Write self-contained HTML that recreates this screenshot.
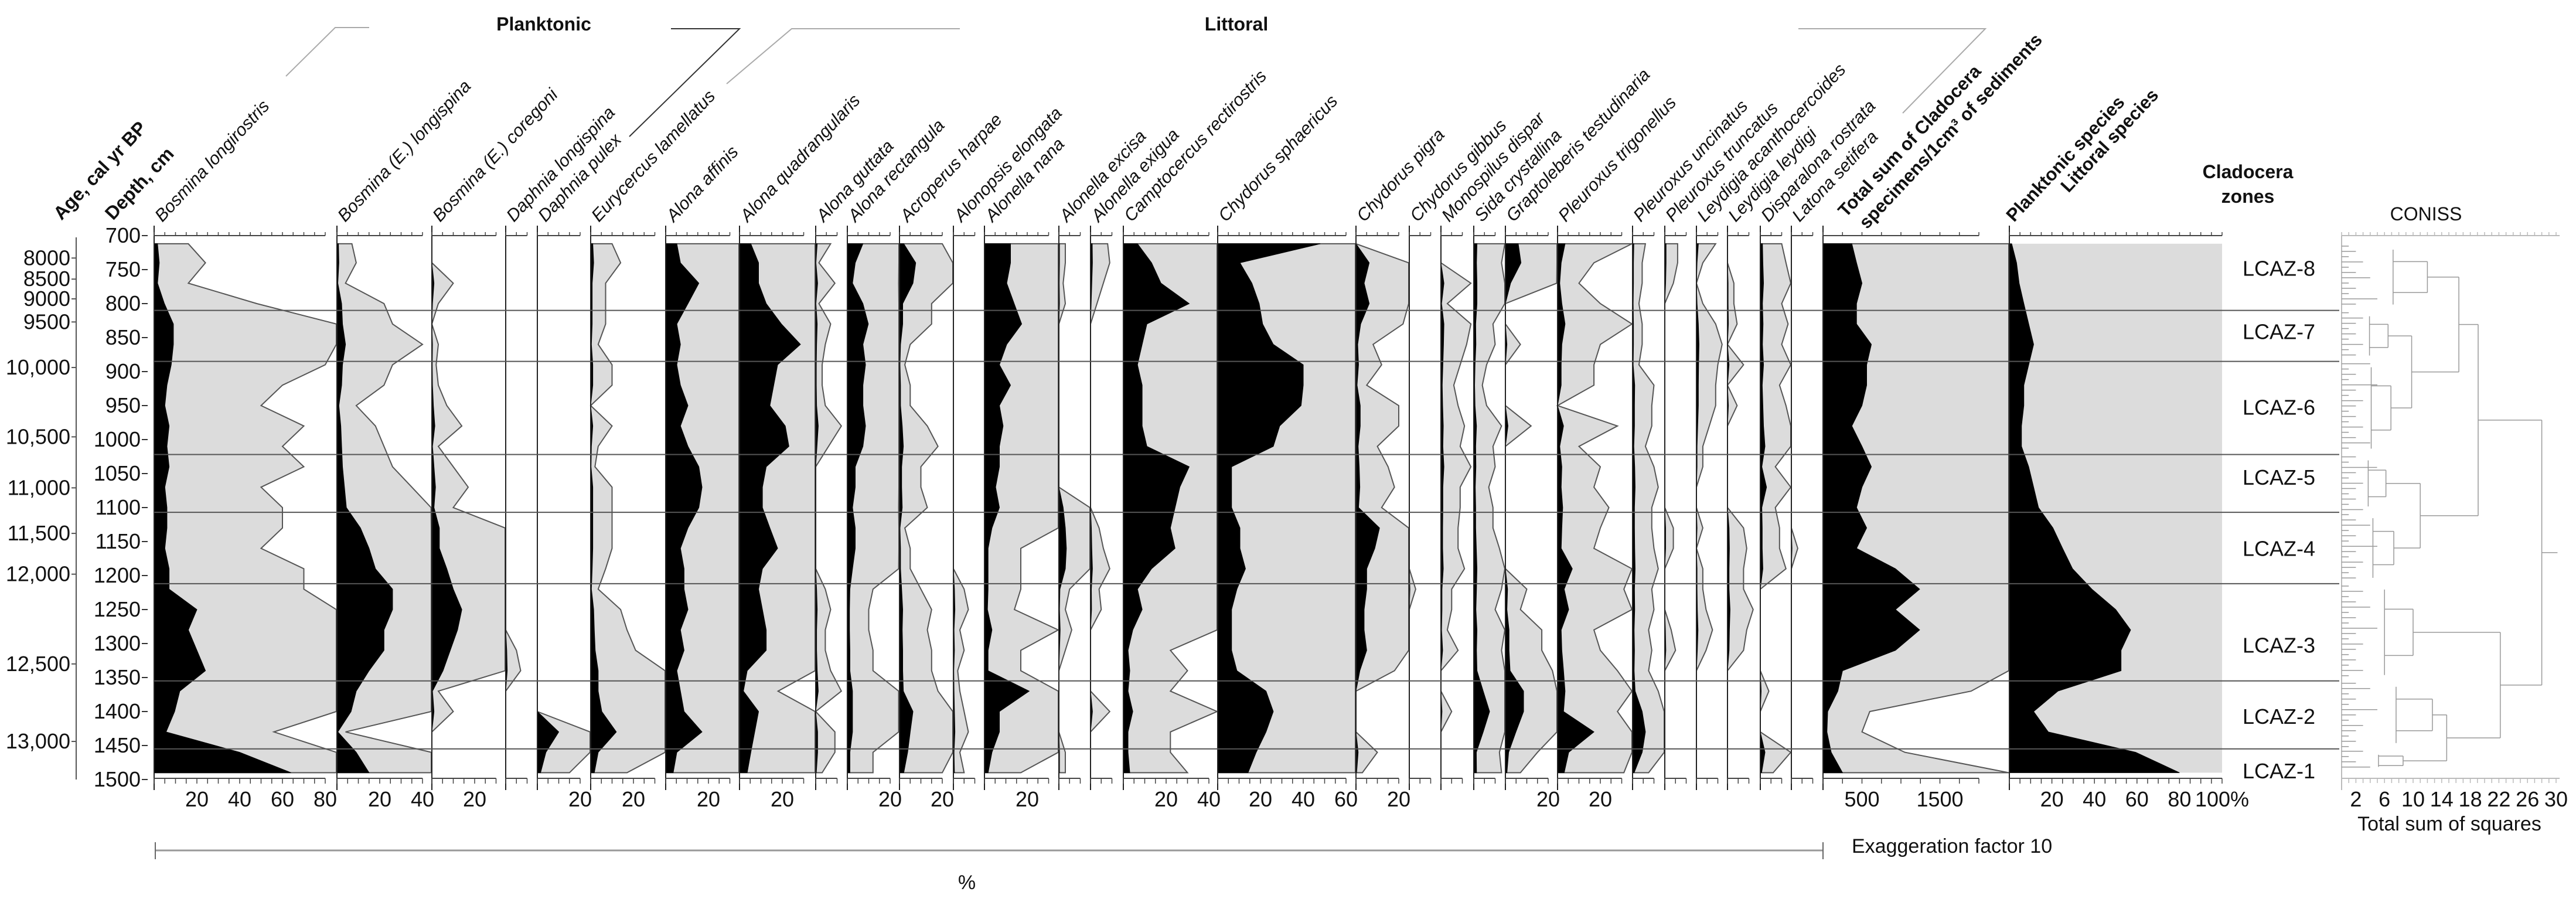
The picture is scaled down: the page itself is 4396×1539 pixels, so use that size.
<!DOCTYPE html>
<html>
<head>
<meta charset="utf-8">
<style>
  html,body{margin:0;padding:0;background:#fff;}
  svg{display:block;}
  .num{font-family:"Liberation Sans Narrow","Liberation Sans",sans-serif;font-size:36px;fill:#111;}
  .sp{font-family:"Liberation Sans",sans-serif;font-style:italic;font-size:30px;fill:#111;}
  .bold{font-family:"Liberation Sans",sans-serif;font-weight:bold;font-size:32px;fill:#111;}
  .lab{font-family:"Liberation Sans Narrow","Liberation Sans",sans-serif;font-size:36px;fill:#111;}
</style>
</head>
<body>
<svg id="chart" xmlns="http://www.w3.org/2000/svg" width="4396" height="1539" viewBox="0 0 4396 1539">
  <rect x="0" y="0" width="4396" height="1539" fill="#fff"/>
  <text class="bold" x="928" y="52" text-anchor="middle">Planktonic</text>
  <text class="bold" x="2110" y="52" text-anchor="middle">Littoral</text>
  <polyline points="488,130 572,47 630,47" fill="none" stroke="#aaa" stroke-width="2"/>
  <polyline points="1145,49 1262,49 1074,233" fill="none" stroke="#333" stroke-width="2"/>
  <polyline points="1638,49 1351,49 1240,143" fill="none" stroke="#aaa" stroke-width="2"/>
  <polyline points="3069,49 3388,49 3247,193" fill="none" stroke="#aaa" stroke-width="2"/>
  <text class="bold" x="3836" y="304" text-anchor="middle">Cladocera</text>
  <text class="bold" x="3836" y="346" text-anchor="middle">zones</text>
  <text class="lab" x="4140" y="376" text-anchor="middle" style="font-size:32px">CONISS</text>
  <text class="lab" x="4180" y="1417" text-anchor="middle" style="font-size:34px">Total sum of squares</text>
  <line x1="265" y1="1451" x2="3111" y2="1451" stroke="#999" stroke-width="3"/>
  <line x1="265" y1="1437" x2="265" y2="1466" stroke="#666" stroke-width="2"/>
  <line x1="3111" y1="1437" x2="3111" y2="1466" stroke="#666" stroke-width="2"/>
  <text class="lab" x="1650" y="1517" text-anchor="middle" style="font-size:34px">%</text>
  <text class="lab" x="3160" y="1455" style="font-size:34px">Exaggeration factor 10</text>
  <g id="layer"></g>
</svg>
<script>
const depths = [712,740,770,800,830,860,890,920,950,980,1010,1040,1070,1100,1130,1160,1190,1220,1250,1280,1310,1340,1370,1400,1430,1460,1490];
const zoneBounds = [712,810,885,1022,1107,1212,1355,1455,1490];
const zoneNames = ["LCAZ-8","LCAZ-7","LCAZ-6","LCAZ-5","LCAZ-4","LCAZ-3","LCAZ-2","LCAZ-1"];
const zoneLabelDepths = [748,841,952,1055,1160,1302,1407,1487];
const ageTicks = ["8000","8500","9000","9500","10,000","10,500","11,000","11,500","12,000","12,500","13,000"];
const ageTickDepths = [733,764,793,827,894,996,1071,1138,1198,1330,1444];
const depthTicks = [700,750,800,850,900,950,1000,1050,1100,1150,1200,1250,1300,1350,1400,1450,1500];

const bosLongirostris = [1.6,2.4,1.6,4.8,9,9,8,6,5,7,6,7,5,6,6,5,7,7,20,16,20,24,12,9.6,5.6,40,64];
const bosLongispina = [0.7,0.9,0.4,2.2,2.6,4,2.6,2.2,0.9,1.8,2.2,2.6,3.5,4.4,11,15,18,26,26,22,22,15,9,6.6,0.4,9,15];
const bosCoregoni = [0,0,1,0.3,0,0.3,0.2,0.3,0.7,1.4,0.3,1,1.7,1,3.5,3.5,7,10,14,12,8.6,5.2,0.3,1,0,0,0];
const daphLongispina = [0,0,0,0,0,0,0,0,0,0,0,0,0,0,0,0,0,0,0,0,0.5,0.7,0,0,0,0,0];
const daphPulex = [0,0,0,0,0,0,0,0,0,0,0,0,0,0,0,0,0,0,0,0,0,0,0,0,10,4,1.5];
const eurycercus = [1,1.4,0.7,0.7,0.7,0.35,1,1,0,1,0.35,0.2,1,1,1,1,0.7,0.35,1.4,1.7,2.1,3.5,3.5,5.2,12,3.5,1.7];
const alonaAffinis = [5.2,6.9,15.5,10.4,5.2,6.9,5.2,6.9,10.4,6.9,10.4,15.5,17,15.5,10.4,6.9,8.6,8.6,10.4,6.9,8.6,5.2,6.9,8.6,17,5.2,3.5];
const alonaQuad = [5.3,8.9,8.9,12.5,19.6,28.5,17.8,16,14.2,21.4,23.1,12.5,10.7,10.7,14.2,17.8,10.7,8.9,10.7,12.5,12.5,3.6,1.8,8.9,7.1,5.3,3.6];
const alonaGuttata = [0.7,0.15,0.9,0.15,0.7,0.45,0.3,0.3,0.45,1.2,0.6,0,0,0,0,0,0,0.45,0.7,0.45,0.45,0.7,1.2,0,0.9,0.9,0.3];
const alonaRect = [7.3,3.7,2.4,7.3,9.8,7.3,8.5,7.3,7.3,8.5,7.3,3.7,3.7,2.4,3.7,3.7,2.4,1.2,1.0,1.0,1.2,1.2,2.4,2.4,2.4,1.2,1.2];
const acroperus = [2,7.6,6.3,1.5,1.5,0.5,0.25,0.5,0.5,1.3,1.8,1,1,1.3,0.25,0.5,0.5,1,1.5,1.3,1.5,1.5,1.8,6.3,5,3.8,2];
const alonopsis = [0,0,0,0,0,0,0,0,0,0,0,0,0,0,0,0,0,0.5,0.7,0.3,0.5,0.2,0.3,0.5,0.7,0.3,0.5];
const alonellaNana = [12.2,12.2,10.4,13.9,17.4,10.4,7,12.2,7,8.7,7,7,5.2,7,3.5,1.7,1.7,1.7,1.4,3.5,1.7,1.7,20.9,7,7,3.5,1.7];
const alonellaExcisa = [0.3,0.3,0.2,0.3,0,0,0,0,0,0,0,0,0,2,3,3.5,3,0.5,0.3,0.6,0.3,0,0,0,0,0.3,0.3];
const alonellaExigua = [0.8,0.9,0.6,0.3,0,0,0,0,0,0,0,0,0,0,0.4,0.6,0.9,0.4,0.5,0,0,0,0,0.9,0,0,0];
const camptocercus = [6.6,13.2,17.6,30.8,11,8.8,6.6,8.8,8.8,8.8,11,30.8,26.4,24.2,22,24.2,13.2,6.6,8.8,4.4,2.2,3,2.2,4.4,2.2,2.2,3];
const chydSphaericus = [48,10.4,16,19.4,21,26,40,40,39,29,26,6.5,6.5,6.5,10.4,10.4,13,9,6.5,6.5,6.5,9,22.6,26,22.6,18,14.2];
const chydPiger = [0,6.2,3.8,6.2,2.2,0.8,1.2,0.5,2,2,1,1.5,1.8,1.2,11,8.8,5,5,3.8,3.8,5,1.8,0,0,0,1,0.3];
const chydGibbus = [0,0,0,0,0,0,0,0,0,0,0,0,0,0,0,0,0,0.3,0,0,0,0,0,0,0,0,0];
const monospilus = [0,0,1.4,0.3,1.4,1.2,0.9,0.6,0.8,1.1,0.9,1.4,0.9,0.9,0.8,0.8,1.1,0.5,0.5,0.3,0.8,0,0,0.5,0,0,0];
const sida = [1.5,1.3,1.5,1.5,0.9,1,0.6,0.4,0.6,1.3,0.9,1,0.7,0.9,0.9,1.2,1.5,1.3,1,1.5,1.3,1.5,4.4,7.4,4.4,1.2,1.3];
const graptoleberis = [6,7.3,2.4,0,0,0.7,0,0,0,1.2,0,0,0,0,0,0,0,1,0.7,1.7,1.7,2.2,8.5,8.5,4.9,1.5,0.7];
const pTrigonellus = [3.5,1.7,1,2,3.5,2,1.7,1.7,0,2.8,1,2,1.7,2.4,2,1.7,6.9,3.1,5.2,1.7,2,2.8,3.5,2.8,17,5.2,3.1];
const pUncinatus = [0.6,0.45,0.45,0.3,0.45,0.45,0.3,1,0.9,0.9,0.6,1,1.2,0.9,0.9,1,1.2,0.9,1,0.75,0.9,0.75,1.2,4.5,6,4.5,0.75];
const pTruncatus = [0.6,0.6,0.4,0,0,0,0,0,0,0,0,0,0,0,0.4,0.4,0,0,0,0.3,0.5,0,0,0,0,0,0];
const leydAcantho = [0.9,0.3,0,0.3,0.9,1.2,1,0.9,0.9,0.6,0.3,0.3,0,0,0.3,0,0.3,0.3,0.45,0.75,0.45,0,0,0,0,0,0];
const leydLeydigi = [0,0,0.3,0.3,0.45,0,0.75,0,0.45,0,0,0,0,0,0.75,0.9,0.75,0.75,1.2,0.9,0.75,0,0,0,0,0,0];
const disparalona = [1,1.2,1.5,1,1.3,1,1.5,0.9,1.2,1.5,2.2,0.7,2.9,0.7,0.9,0.9,1.2,0,0,0,0,0,0.4,0,0,2.2,0.6];
const latona = [0,0,0,0,0,0,0,0,0,0,0,0,0,0,0,0.3,0,0,0,0,0,0,0,0,0,0,0];
const totalSum = [370,430,500,430,430,620,560,560,500,370,500,620,500,430,560,430,930,1240,930,1240,930,250,190,60,50,105,250];
const planktonic = [1.1,3.4,4.6,6.8,9.1,11.4,9.1,6.8,6.8,5.7,5.7,9.1,11.4,13.7,20.5,25,29.7,38.8,50,57,52.5,52.5,22.8,11.4,18.3,59.4,80];

const conissLeafLengths = [1,2,1,3,1,2,4,1,2,1,5,2,1,3,2];
const conissZoneHeights = [12,6.5,6.9,6.2,7.3,10,12.7,8.6];
const tickLabelsLong = [20,40,60,80];
const tickLabels40 = [20,40];
const tickLabels20 = [20];
const tickLabels60 = [20,40,60];
const tickLabelsTotal = [500,1500];
const tickLabelsPct = [20,40,60,80,100];
const conissTickLabels = [2,6,10,14,18,22,26,30];

const NS = "http://www.w3.org/2000/svg";
const layer = document.getElementById("layer");
function el(tag, attrs, parent){
  const e = document.createElementNS(NS, tag);
  for (const k in attrs) e.setAttribute(k, attrs[k]);
  (parent||layer).appendChild(e);
  return e;
}
function yOf(d){ return 402 + (d - 700) * 1.16; }

const cols = [
  {name:"Bosmina longirostris", id:"bosmina-longirostris", left:263, right:575, data:bosLongirostris, labels:tickLabelsLong},
  {name:"Bosmina (E.) longispina", id:"bosmina-longispina", left:575, right:737, data:bosLongispina, labels:tickLabels40},
  {name:"Bosmina (E.) coregoni", id:"bosmina-coregoni", left:737, right:863, data:bosCoregoni, labels:tickLabels20},
  {name:"Daphnia longispina", id:"daphnia-longispina", left:863, right:917, data:daphLongispina, labels:[]},
  {name:"Daphnia pulex", id:"daphnia-pulex", left:917, right:1008, data:daphPulex, labels:tickLabels20},
  {name:"Eurycercus lamellatus", id:"eurycercus-lamellatus", left:1008, right:1136, data:eurycercus, labels:tickLabels20},
  {name:"Alona affinis", id:"alona-affinis", left:1136, right:1262, data:alonaAffinis, labels:tickLabels20},
  {name:"Alona quadrangularis", id:"alona-quadrangularis", left:1262, right:1392, data:alonaQuad, labels:tickLabels20},
  {name:"Alona guttata", id:"alona-guttata", left:1392, right:1446, data:alonaGuttata, labels:[]},
  {name:"Alona rectangula", id:"alona-rectangula", left:1446, right:1535, data:alonaRect, labels:tickLabels20},
  {name:"Acroperus harpae", id:"acroperus-harpae", left:1535, right:1627, data:acroperus, labels:tickLabels20},
  {name:"Alonopsis elongata", id:"alonopsis-elongata", left:1627, right:1680, data:alonopsis, labels:[]},
  {name:"Alonella nana", id:"alonella-nana", left:1680, right:1807, data:alonellaNana, labels:tickLabels20},
  {name:"Alonella excisa", id:"alonella-excisa", left:1807, right:1861, data:alonellaExcisa, labels:[]},
  {name:"Alonella exigua", id:"alonella-exigua", left:1861, right:1917, data:alonellaExigua, labels:[]},
  {name:"Camptocercus rectirostris", id:"camptocercus-rectirostris", left:1917, right:2078, data:camptocercus, labels:tickLabels40},
  {name:"Chydorus sphaericus", id:"chydorus-sphaericus", left:2078, right:2314, data:chydSphaericus, labels:tickLabels60},
  {name:"Chydorus pigra", id:"chydorus-pigra", left:2314, right:2405, data:chydPiger, labels:tickLabels20},
  {name:"Chydorus gibbus", id:"chydorus-gibbus", left:2405, right:2459, data:chydGibbus, labels:[]},
  {name:"Monospilus dispar", id:"monospilus-dispar", left:2459, right:2515, data:monospilus, labels:[]},
  {name:"Sida crystallina", id:"sida-crystallina", left:2515, right:2569, data:sida, labels:[]},
  {name:"Graptoleberis testudinaria", id:"graptoleberis-testudinaria", left:2569, right:2658, data:graptoleberis, labels:tickLabels20},
  {name:"Pleuroxus trigonellus", id:"pleuroxus-trigonellus", left:2658, right:2786, data:pTrigonellus, labels:tickLabels20},
  {name:"Pleuroxus uncinatus", id:"pleuroxus-uncinatus", left:2786, right:2841, data:pUncinatus, labels:[]},
  {name:"Pleuroxus truncatus", id:"pleuroxus-truncatus", left:2841, right:2895, data:pTruncatus, labels:[]},
  {name:"Leydigia acanthocercoides", id:"leydigia-acanthocercoides", left:2895, right:2948, data:leydAcantho, labels:[]},
  {name:"Leydigia leydigi", id:"leydigia-leydigi", left:2948, right:3004, data:leydLeydigi, labels:[]},
  {name:"Disparalona rostrata", id:"disparalona-rostrata", left:3004, right:3057, data:disparalona, labels:[]},
  {name:"Latona setifera", id:"latona-setifera", left:3057, right:3111, data:latona, labels:[]}
];

const PX = 3.65;
function drawProfile(c, scale, axisMax, tickStep, labelFmt, greyFull){
  const g = el("g", {});
  
  
  const cw = c.right - c.left - 1;
  const y0 = yOf(depths[0]), yn = yOf(depths[depths.length-1]);
  let gp = c.left + "," + y0;
  let bp = c.left + "," + y0;
  for (let i = 0; i < depths.length; i++){
    const y = yOf(depths[i]);
    const gw = greyFull ? cw : Math.min(c.data[i] * 10 * scale, cw);
    const bw = Math.min(c.data[i] * scale, cw);
    gp += " " + (c.left + gw).toFixed(1) + "," + y.toFixed(1);
    bp += " " + (c.left + bw).toFixed(1) + "," + y.toFixed(1);
  }
  gp += " " + c.left + "," + yn;
  bp += " " + c.left + "," + yn;
  const gpoly = el("polygon", {points: gp, fill: "#dcdcdc", stroke: greyFull ? "none" : "#555", "stroke-width": 2}, g);
  
  
  const bpoly = el("polygon", {points: bp, fill: "#000", stroke: "#000", "stroke-width": 1}, g);
  
  
  const ax = el("line", {x1: c.left, y1: 385, x2: c.left, y2: 1348, stroke: "#222", "stroke-width": 2}, g);
  
  
  const axEnd = c.left + axisMax * scale;
  el("line", {x1: c.left, y1: 402, x2: axEnd, y2: 402, stroke: "#444", "stroke-width": 2}, g);
  el("line", {x1: c.left, y1: 1328, x2: axEnd, y2: 1328, stroke: "#444", "stroke-width": 2}, g);
  for (let v = 0; v <= axisMax + 1e-6; v += tickStep){
    const x = c.left + v * scale;
    el("line", {x1: x, y1: 396, x2: x, y2: 402, stroke: "#444", "stroke-width": 1.5}, g);
    el("line", {x1: x, y1: 1328, x2: x, y2: 1337, stroke: "#444", "stroke-width": 1.5}, g);
  }
  c.labels.forEach(function(v){
    const t = el("text", {x: c.left + v * scale, y: 1376, "text-anchor": "middle", "class": "num"}, g);
    t.textContent = labelFmt ? labelFmt(v) : String(v);
    
    
  });
  return g;
}

cols.forEach(function(c){
  const w = c.right - c.left;
  const axisMax = Math.floor((w - 12) / PX / 10) * 10;
  drawProfile(c, PX, axisMax, 5, null, false);
  const t = el("text", {"class": "sp", x: c.left + 14, y: 380, transform: "rotate(-47 " + (c.left + 14) + " 380)"});
  t.textContent = c.name;
  
  
});

const totalCol = {id:"total-sum", left:3111, right:3429, data: totalSum, labels: tickLabelsTotal};
drawProfile(totalCol, 0.133, 2000, 250, null, false);
const plankCol = {id:"planktonic-littoral", left:3429, right:3793, data: planktonic, labels: tickLabelsPct};
drawProfile(plankCol, 3.63, 100, 5, function(v){ return v === 100 ? "100%" : String(v); }, true);

[["Total sum of Cladocera", 3150, 372, "total-sum-header"],
 ["specimens/1cm\u00B3 of sediments", 3186, 392, "total-sum-header-2"],
 ["Planktonic species", 3437, 380, "planktonic-species-header"],
 ["Littoral species", 3530, 330, "littoral-species-header"]].forEach(function(h){
  const t = el("text", {"class": "bold", x: h[1], y: h[2], transform: "rotate(-47 " + h[1] + " " + h[2] + ")", style: "font-size:31px"});
  t.textContent = h[0];
  
  
});

for (let i = 1; i < zoneBounds.length - 1; i++){
  const y = yOf(zoneBounds[i]);
  const zl = el("line", {x1: 263, y1: y, x2: 3992, y2: y, stroke: "#555", "stroke-width": 2});
  
  
}
zoneNames.forEach(function(n, i){
  const t = el("text", {"class": "lab", x: 3889, y: yOf(zoneLabelDepths[i]) + 13, "text-anchor": "middle"});
  t.textContent = n;
  
  
});

const ageT = el("text", {"class": "bold", x: 105, y: 377, transform: "rotate(-47 105 377)"});
ageT.textContent = "Age, cal yr BP";


const depT = el("text", {"class": "bold", x: 193, y: 377, transform: "rotate(-47 193 377)"});
depT.textContent = "Depth, cm";


const ageAx = el("line", {x1: 130, y1: 405, x2: 130, y2: 1330, stroke: "#555", "stroke-width": 2});


ageTicks.forEach(function(a, i){
  const y = yOf(ageTickDepths[i]);
  el("line", {x1: 122, y1: y, x2: 130, y2: y, stroke: "#555", "stroke-width": 2});
  const t = el("text", {"class": "num", x: 120, y: y + 12, "text-anchor": "end"});
  t.textContent = a;
  
  
});
depthTicks.forEach(function(d){
  const y = yOf(d);
  el("line", {x1: 242, y1: y, x2: 252, y2: y, stroke: "#333", "stroke-width": 2});
  const t = el("text", {"class": "num", x: 240, y: y + 12, "text-anchor": "end"});
  t.textContent = String(d);
  
  
});

const cx0 = 3996, cpx = 12.2;
function cX(v){ return cx0 + v * cpx; }
const cg = el("g", {});


el("line", {x1: cx0, y1: 402, x2: cX(30.5), y2: 402, stroke: "#bbb", "stroke-width": 2}, cg);
el("line", {x1: cx0, y1: 1328, x2: cX(30.5), y2: 1328, stroke: "#bbb", "stroke-width": 2}, cg);
el("line", {x1: cx0, y1: 402, x2: cx0, y2: 1348, stroke: "#bbb", "stroke-width": 2}, cg);
for (let v = 0; v <= 30; v++){
  el("line", {x1: cX(v), y1: 1328, x2: cX(v), y2: 1336, stroke: "#bbb", "stroke-width": 1.5}, cg);
  el("line", {x1: cX(v), y1: 396, x2: cX(v), y2: 402, stroke: "#bbb", "stroke-width": 1.5}, cg);
}
conissTickLabels.forEach(function(v){
  const t = el("text", {"class": "num", x: cX(v), y: 1376, "text-anchor": "middle"}, cg);
  t.textContent = String(v);
  
  
});
const zoneMid = [];
let leafIdx = 0;
for (let z = 0; z < zoneNames.length; z++){
  const yT = yOf(zoneBounds[z]) + 4, yB = yOf(zoneBounds[z+1]) - 4;
  const h = conissZoneHeights[z];
  for (let y = yT; y <= yB; y += 9){
    const len = Math.min(conissLeafLengths[leafIdx % conissLeafLengths.length], h * 0.8);
    leafIdx++;
    el("line", {x1: cx0, y1: y, x2: cX(len), y2: y, stroke: "#999", "stroke-width": 1.5}, cg);
  }
  const midA = (yT + (yT + yB) / 2) / 2, midB = ((yT + yB) / 2 + yB) / 2;
  el("line", {x1: cX(h * 0.6), y1: midA, x2: cX(h), y2: midA, stroke: "#999", "stroke-width": 1.5}, cg);
  el("line", {x1: cX(h * 0.6), y1: midB, x2: cX(h), y2: midB, stroke: "#999", "stroke-width": 1.5}, cg);
  el("line", {x1: cX(h * 0.6), y1: yT + 6, x2: cX(h * 0.6), y2: yB - 6, stroke: "#999", "stroke-width": 1.5}, cg);
  el("line", {x1: cX(h), y1: midA, x2: cX(h), y2: midB, stroke: "#999", "stroke-width": 1.5}, cg);
  zoneMid.push({y: (midA + midB) / 2, h: h});
}
const conissMerges = [[1,2,9.8],[0,8,16.4],[3,4,11],[9,10,19.1],[6,7,14.7],[5,12,22.2],[11,13,28]];
const nodes = zoneMid.slice();
conissMerges.forEach(function(m){
  const a = nodes[m[0]], b = nodes[m[1]], hh = m[2];
  el("line", {x1: cX(a.h), y1: a.y, x2: cX(hh), y2: a.y, stroke: "#999", "stroke-width": 1.5}, cg);
  el("line", {x1: cX(b.h), y1: b.y, x2: cX(hh), y2: b.y, stroke: "#999", "stroke-width": 1.5}, cg);
  el("line", {x1: cX(hh), y1: a.y, x2: cX(hh), y2: b.y, stroke: "#999", "stroke-width": 1.5}, cg);
  nodes.push({y: (a.y + b.y) / 2, h: hh});
});
const root = nodes[nodes.length - 1];
el("line", {x1: cX(root.h), y1: root.y, x2: cX(30.2), y2: root.y, stroke: "#999", "stroke-width": 1.5}, cg);
</script>
</body>
</html>
